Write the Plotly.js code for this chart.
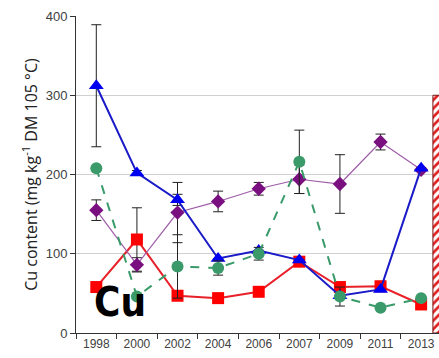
<!DOCTYPE html>
<html>
<head>
<meta charset="utf-8">
<script src="https://cdn.plot.ly/plotly-3.0.1.min.js"></script>
<style>html,body{margin:0;padding:0;background:#fff;}#chart{width:439px;height:358px;}</style>
</head>
<body>
<div id="chart"></div>
<script>
var years = ['1998','2000','2002','2004','2006','2007','2009','2011','2013'];

var blueVals   = [312, 202, 168, 94, 104, 92, 47, 55, 208];
var blueErr    = [77, 3, 7, 0, 0, 0, 0, 0, 0];

var purpleVals = [155, 86, 152, 166, 182, 194, 188, 241, 206];
var purpleErr  = [13, 9, 38, 13, 8, 18, 37, 10, 0];

var greenVals  = [208, 46, 84, 82, 100, 216, 46, 32, 44];
var greenErr   = [0, 0, 40, 9, 8, 40, 12, 0, 0];

var redVals    = [58, 118, 47, 44, 52, 90, 58, 59, 36];
var redErr     = [0, 40, 0, 0, 0, 0, 0, 0, 0];

var nextPanelBar = [300];

function err(arr){
  return {type:'data', array:arr, visible:true, color:'#222', thickness:1, width:5};
}

var traces = [
  {x:years, y:redVals, type:'scatter', mode:'lines+markers', error_y:err(redErr),
   line:{color:'#E8202A', width:2}, marker:{symbol:'square', size:12, color:'#FF0000'}},
  {x:years, y:purpleVals, type:'scatter', mode:'lines+markers', error_y:err(purpleErr),
   line:{color:'#9E5BA8', width:1.2}, marker:{symbol:'diamond', size:11, color:'#7A0F80'}},
  {x:years, y:blueVals, type:'scatter', mode:'lines+markers', error_y:err(blueErr),
   line:{color:'#1A1AC8', width:2}, marker:{symbol:'triangle-up', size:13, color:'#0000F0'}},
  {x:years, y:greenVals, type:'scatter', mode:'lines+markers', error_y:err(greenErr),
   line:{color:'#3A9A6A', width:2, dash:'dash'}, marker:{symbol:'circle', size:12, color:'#3A9A6A'}},
  {x:[9], y:nextPanelBar, type:'bar', width:1.42, xaxis:'x2',
   marker:{color:'#FFFFFF', line:{color:'#7A1010', width:1},
           pattern:{shape:'/', fgcolor:'#E02020', bgcolor:'#FFFFFF', size:6, solidity:0.45}}}
];

var layout = {
  width:439, height:358,
  margin:{l:76, r:0, t:16, b:25},
  paper_bgcolor:'#fff', plot_bgcolor:'#fff',
  showlegend:false,
  font:{family:'"Liberation Sans", Arial, sans-serif', color:'#404040', size:12},
  xaxis:{type:'category', categoryarray:years, range:[-0.5, 8.44],
    tickson:'boundaries', ticks:'outside', ticklen:5, tickcolor:'#333',
    showline:true, linecolor:'#333', linewidth:1, showgrid:false,
    tickfont:{size:12, color:'#404040'}},
  xaxis2:{overlaying:'x', range:[-0.5, 8.44], visible:false},
  yaxis:{range:[0,400], tickvals:[0,100,200,300,400], ticks:'outside', ticklen:5, tickcolor:'#333',
    showline:true, linecolor:'#333', linewidth:1, showgrid:true, gridcolor:'#D0D0D0', gridwidth:1,
    zeroline:false, tickfont:{size:13, color:'#404040'},
    title:{text:'Cu content (mg kg<sup>-1</sup> DM 105 °C)', font:{size:16, color:'#202020', family:'"Open Sans", "Liberation Sans", sans-serif'}, standoff:4}},
  annotations:[{xref:'paper', yref:'paper', x:0.121, y:0.098, xanchor:'center', yanchor:'middle',
    text:'<b>Cu</b>', showarrow:false,
    font:{size:40, color:'#000', family:'"Liberation Sans Narrow", "DejaVu Sans Condensed", "Liberation Sans", sans-serif'}}]
};

Plotly.newPlot('chart', traces, layout, {displayModeBar:false, staticPlot:true});
</script>
</body>
</html>
